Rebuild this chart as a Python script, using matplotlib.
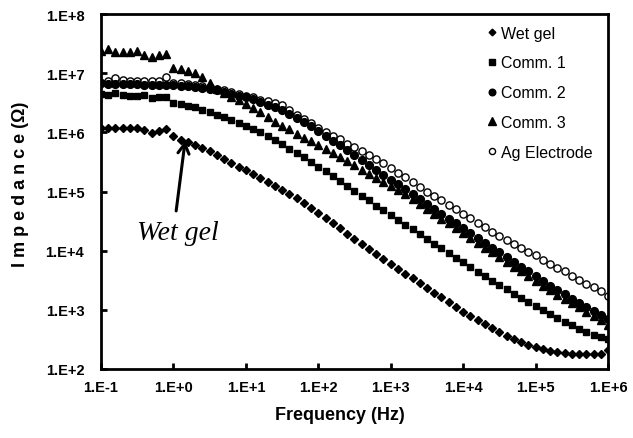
import numpy as np
import matplotlib
matplotlib.use("Agg")
import matplotlib.pyplot as plt
from matplotlib.ticker import FixedLocator, FuncFormatter, NullLocator

# measurement frequencies (Hz), 10 points per decade
freq = [0.1, 0.126, 0.158, 0.2, 0.251, 0.316, 0.398, 0.501, 0.631, 0.794,
        1, 1.26, 1.58, 2, 2.51, 3.16, 3.98, 5.01, 6.31, 7.94,
        10, 12.6, 15.8, 20, 25.1, 31.6, 39.8, 50.1, 63.1, 79.4,
        100, 126, 158, 200, 251, 316, 398, 501, 631, 794,
        1e3, 1.26e3, 1.58e3, 2e3, 2.51e3, 3.16e3, 3.98e3, 5.01e3, 6.31e3, 7.94e3,
        1e4, 1.26e4, 1.58e4, 2e4, 2.51e4, 3.16e4, 3.98e4, 5.01e4, 6.31e4, 7.94e4,
        1e5, 1.26e5, 1.58e5, 2e5, 2.51e5, 3.16e5, 3.98e5, 5.01e5, 6.31e5, 7.94e5,
        1e6]

# impedance as log10(ohm)
wet_gel = [6.08, 6.08, 6.08, 6.08, 6.07, 6.07, 6.04, 5.99, 6.03, 6.06,
           5.93, 5.87, 5.84, 5.79, 5.74, 5.68, 5.62, 5.55, 5.49, 5.42,
           5.36, 5.30, 5.22, 5.16, 5.10, 5.03, 4.96, 4.89, 4.81, 4.72,
           4.64, 4.55, 4.46, 4.38, 4.29, 4.20, 4.12, 4.03, 3.95, 3.86,
           3.78, 3.69, 3.61, 3.53, 3.45, 3.37, 3.29, 3.21, 3.13, 3.05,
           2.97, 2.90, 2.83, 2.76, 2.69, 2.62, 2.56, 2.50, 2.45, 2.41,
           2.37, 2.34, 2.31, 2.29, 2.27, 2.26, 2.25, 2.25, 2.25, 2.26,
           2.32]
comm1 = [6.64, 6.63, 6.66, 6.63, 6.62, 6.62, 6.63, 6.58, 6.60, 6.60,
         6.50, 6.48, 6.45, 6.42, 6.38, 6.34, 6.30, 6.26, 6.21, 6.16,
         6.11, 6.06, 6.01, 5.94, 5.87, 5.80, 5.72, 5.65, 5.58, 5.50,
         5.42, 5.34, 5.26, 5.17, 5.09, 5.01, 4.93, 4.85, 4.76, 4.68,
         4.60, 4.52, 4.44, 4.36, 4.28, 4.20, 4.12, 4.04, 3.96, 3.88,
         3.80, 3.72, 3.64, 3.57, 3.49, 3.42, 3.35, 3.27, 3.20, 3.13,
         3.06, 2.99, 2.93, 2.86, 2.80, 2.74, 2.68, 2.63, 2.58, 2.54,
         2.51]
comm2 = [6.83, 6.82, 6.82, 6.81, 6.81, 6.81, 6.80, 6.80, 6.80, 6.80,
         6.80, 6.79, 6.78, 6.77, 6.75, 6.73, 6.71, 6.68, 6.65, 6.62,
         6.59, 6.56, 6.52, 6.47, 6.42, 6.37, 6.31, 6.25, 6.18, 6.10,
         6.02, 5.94, 5.86, 5.78, 5.70, 5.61, 5.53, 5.45, 5.37, 5.28,
         5.20, 5.12, 5.04, 4.95, 4.87, 4.79, 4.70, 4.62, 4.54, 4.46,
         4.38, 4.30, 4.21, 4.13, 4.05, 3.97, 3.89, 3.81, 3.73, 3.65,
         3.57, 3.49, 3.41, 3.33, 3.26, 3.19, 3.12, 3.05, 2.98, 2.91,
         2.84]
comm3 = [7.38, 7.41, 7.36, 7.35, 7.36, 7.38, 7.31, 7.27, 7.30, 7.33,
         7.08, 7.07, 7.04, 7.00, 6.93, 6.83, 6.73, 6.67, 6.60, 6.54,
         6.48, 6.41, 6.34, 6.26, 6.18, 6.11, 6.05, 5.98, 5.91, 5.85,
         5.79, 5.72, 5.65, 5.58, 5.51, 5.44, 5.37, 5.30, 5.23, 5.16,
         5.10, 5.03, 4.96, 4.87, 4.79, 4.71, 4.62, 4.54, 4.46, 4.38,
         4.30, 4.22, 4.13, 4.05, 3.97, 3.89, 3.81, 3.73, 3.65, 3.57,
         3.49, 3.41, 3.33, 3.25, 3.18, 3.11, 3.04, 2.97, 2.90, 2.83,
         2.74]
ag_electrode = [6.84, 6.86, 6.92, 6.89, 6.86, 6.86, 6.86, 6.86, 6.86, 6.93,
                6.84, 6.83, 6.82, 6.80, 6.78, 6.76, 6.74, 6.71, 6.68, 6.65,
                6.62, 6.59, 6.55, 6.53, 6.50, 6.46, 6.38, 6.30, 6.22, 6.15,
                6.08, 6.01, 5.94, 5.88, 5.81, 5.75, 5.68, 5.62, 5.55, 5.48,
                5.40, 5.32, 5.24, 5.16, 5.08, 5.00, 4.92, 4.85, 4.77, 4.70,
                4.62, 4.55, 4.47, 4.40, 4.32, 4.25, 4.18, 4.12, 4.05, 3.98,
                3.92, 3.85, 3.78, 3.71, 3.65, 3.58, 3.51, 3.44, 3.38, 3.31,
                3.24]

labels = ["Wet gel", "Comm. 1", "Comm. 2", "Comm. 3", "Ag Electrode"]
x_ticks = [0.1, 1, 10, 100, 1e3, 1e4, 1e5, 1e6]
y_ticks = [1e2, 1e3, 1e4, 1e5, 1e6, 1e7, 1e8]

plt.rcParams['font.family'] = ['Liberation Sans', 'DejaVu Sans']

fig = plt.figure(figsize=(6.33, 4.39), dpi=100)
ax = fig.add_axes([0.1596, 0.1572, 0.8009, 0.8086])

series = [wet_gel, comm1, comm2, comm3, ag_electrode]
markers = ['D', 's', 'o', '^', 'o']
sizes = [4.0, 5.0, 5.6, 6.0, 5.2]
faces = ['black', 'black', 'black', 'black', 'white']
zorders = [3, 3, 3, 3, 2]
for vals, lab, m, ms, fc, z in zip(series, labels, markers, sizes, faces, zorders):
    ax.plot(freq, np.power(10.0, vals), linestyle='none', marker=m, ms=ms,
            mfc=fc, mec='black', mew=1.0, label=lab, zorder=z)

ax.set_xscale('log')
ax.set_yscale('log')
ax.set_xlim(0.1, 1e6)
ax.set_ylim(1e2, 1e8)

fmt = FuncFormatter(lambda v, p: "1.E%+d" % int(round(np.log10(v))))
ax.xaxis.set_major_locator(FixedLocator(x_ticks))
ax.yaxis.set_major_locator(FixedLocator(y_ticks))
ax.xaxis.set_minor_locator(NullLocator())
ax.yaxis.set_minor_locator(NullLocator())
ax.xaxis.set_major_formatter(fmt)
ax.yaxis.set_major_formatter(fmt)
ax.tick_params(direction='in', length=4, width=2)
ax.tick_params(axis='x', pad=8)
ax.tick_params(axis='y', pad=12)
for lbl in ax.get_xticklabels() + ax.get_yticklabels():
    lbl.set_fontsize(10.5)
    lbl.set_fontweight('bold')
for s in ax.spines.values():
    s.set_linewidth(2)

ax.set_xlabel('Frequency (Hz)', fontsize=13, fontweight='bold')
ax.xaxis.set_label_coords(0.471, -0.104)
ax.set_ylabel('I m p e d a n c e (Ω)', fontsize=13, fontweight='bold')
ax.yaxis.set_label_coords(-0.143, 0.524)

ax.legend(loc='upper left', bbox_to_anchor=(0.768, 0.9396),
          bbox_transform=fig.transFigure, frameon=False, fontsize=11.5,
          handlelength=0.7, handletextpad=0.25, labelspacing=0.93,
          borderpad=0, borderaxespad=0, markerscale=0.85)

# arrow pointing at the wet gel curve
ax.annotate('', xy=(1.45, 7.2e5), xytext=(1.09, 4.7e4),
            arrowprops=dict(arrowstyle='->, head_length=0.7, head_width=0.4',
                            lw=2.2, color='black', shrinkA=0, shrinkB=0))
ax.text(1.14, 1.6e4, 'Wet gel', fontsize=20, style='italic',
        family='Liberation Serif', ha='center', va='baseline')

plt.savefig('out.png', dpi=100)
